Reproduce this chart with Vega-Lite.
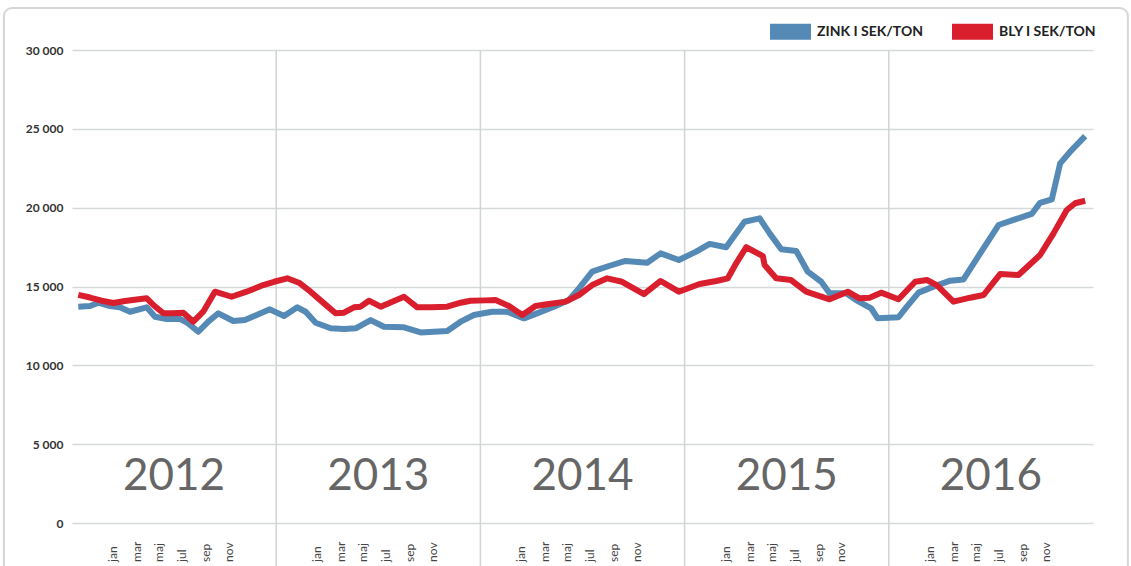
{
  "$schema": "https://vega.github.io/schema/vega-lite/v6.json",
  "width": 1021,
  "height": 473,
  "autosize": {"type": "none"},
  "padding": {"left": 72, "top": 50, "right": 38, "bottom": 43},
  "background": "#ffffff",
  "config": {
    "view": {"stroke": null},
    "font": "Lato",
    "axisY": {"domain": false, "ticks": false, "grid": true, "gridColor": "#d5d9d9", "gridWidth": 1.5, "labelPadding": 9, "labelFont": "Lato", "labelFontWeight": "bold", "labelFontSize": 12, "labelColor": "#333333"}
  },
  "datasets": {
    "prices": [
      {"t": 0.37, "metal": "ZINK I SEK/TON", "sek": 13720},
      {"t": 1.06, "metal": "ZINK I SEK/TON", "sek": 13760},
      {"t": 1.55, "metal": "ZINK I SEK/TON", "sek": 13970},
      {"t": 2.23, "metal": "ZINK I SEK/TON", "sek": 13760},
      {"t": 2.82, "metal": "ZINK I SEK/TON", "sek": 13680},
      {"t": 3.41, "metal": "ZINK I SEK/TON", "sek": 13400},
      {"t": 4.39, "metal": "ZINK I SEK/TON", "sek": 13680},
      {"t": 4.88, "metal": "ZINK I SEK/TON", "sek": 13080},
      {"t": 5.56, "metal": "ZINK I SEK/TON", "sek": 12940},
      {"t": 6.35, "metal": "ZINK I SEK/TON", "sek": 12940},
      {"t": 6.83, "metal": "ZINK I SEK/TON", "sek": 12660},
      {"t": 7.42, "metal": "ZINK I SEK/TON", "sek": 12130},
      {"t": 8.01, "metal": "ZINK I SEK/TON", "sek": 12770},
      {"t": 8.6, "metal": "ZINK I SEK/TON", "sek": 13300},
      {"t": 9.48, "metal": "ZINK I SEK/TON", "sek": 12810},
      {"t": 10.16, "metal": "ZINK I SEK/TON", "sek": 12870},
      {"t": 10.85, "metal": "ZINK I SEK/TON", "sek": 13190},
      {"t": 11.63, "metal": "ZINK I SEK/TON", "sek": 13550},
      {"t": 12.46, "metal": "ZINK I SEK/TON", "sek": 13130},
      {"t": 13.24, "metal": "ZINK I SEK/TON", "sek": 13680},
      {"t": 13.73, "metal": "ZINK I SEK/TON", "sek": 13400},
      {"t": 14.32, "metal": "ZINK I SEK/TON", "sek": 12700},
      {"t": 15.2, "metal": "ZINK I SEK/TON", "sek": 12350},
      {"t": 15.98, "metal": "ZINK I SEK/TON", "sek": 12300},
      {"t": 16.67, "metal": "ZINK I SEK/TON", "sek": 12350},
      {"t": 17.55, "metal": "ZINK I SEK/TON", "sek": 12870},
      {"t": 18.33, "metal": "ZINK I SEK/TON", "sek": 12450},
      {"t": 19.51, "metal": "ZINK I SEK/TON", "sek": 12410},
      {"t": 20.49, "metal": "ZINK I SEK/TON", "sek": 12090},
      {"t": 22.05, "metal": "ZINK I SEK/TON", "sek": 12180},
      {"t": 22.84, "metal": "ZINK I SEK/TON", "sek": 12770},
      {"t": 23.62, "metal": "ZINK I SEK/TON", "sek": 13190},
      {"t": 24.69, "metal": "ZINK I SEK/TON", "sek": 13400},
      {"t": 25.57, "metal": "ZINK I SEK/TON", "sek": 13400},
      {"t": 26.56, "metal": "ZINK I SEK/TON", "sek": 12980},
      {"t": 27.44, "metal": "ZINK I SEK/TON", "sek": 13340},
      {"t": 28.42, "metal": "ZINK I SEK/TON", "sek": 13760},
      {"t": 29.2, "metal": "ZINK I SEK/TON", "sek": 14140},
      {"t": 29.79, "metal": "ZINK I SEK/TON", "sek": 14880},
      {"t": 30.57, "metal": "ZINK I SEK/TON", "sek": 15940},
      {"t": 31.55, "metal": "ZINK I SEK/TON", "sek": 16300},
      {"t": 32.53, "metal": "ZINK I SEK/TON", "sek": 16620},
      {"t": 33.8, "metal": "ZINK I SEK/TON", "sek": 16510},
      {"t": 34.59, "metal": "ZINK I SEK/TON", "sek": 17100},
      {"t": 35.66, "metal": "ZINK I SEK/TON", "sek": 16680},
      {"t": 36.68, "metal": "ZINK I SEK/TON", "sek": 17210},
      {"t": 37.47, "metal": "ZINK I SEK/TON", "sek": 17700},
      {"t": 38.44, "metal": "ZINK I SEK/TON", "sek": 17490},
      {"t": 39.52, "metal": "ZINK I SEK/TON", "sek": 19110},
      {"t": 40.41, "metal": "ZINK I SEK/TON", "sek": 19320},
      {"t": 41.0, "metal": "ZINK I SEK/TON", "sek": 18370},
      {"t": 41.68, "metal": "ZINK I SEK/TON", "sek": 17360},
      {"t": 42.56, "metal": "ZINK I SEK/TON", "sek": 17250},
      {"t": 43.24, "metal": "ZINK I SEK/TON", "sek": 15940},
      {"t": 44.03, "metal": "ZINK I SEK/TON", "sek": 15300},
      {"t": 44.52, "metal": "ZINK I SEK/TON", "sek": 14570},
      {"t": 45.5, "metal": "ZINK I SEK/TON", "sek": 14570},
      {"t": 46.08, "metal": "ZINK I SEK/TON", "sek": 14140},
      {"t": 46.96, "metal": "ZINK I SEK/TON", "sek": 13620},
      {"t": 47.35, "metal": "ZINK I SEK/TON", "sek": 12980},
      {"t": 48.57, "metal": "ZINK I SEK/TON", "sek": 13050},
      {"t": 49.06, "metal": "ZINK I SEK/TON", "sek": 13720},
      {"t": 49.75, "metal": "ZINK I SEK/TON", "sek": 14610},
      {"t": 50.63, "metal": "ZINK I SEK/TON", "sek": 14990},
      {"t": 51.61, "metal": "ZINK I SEK/TON", "sek": 15370},
      {"t": 52.39, "metal": "ZINK I SEK/TON", "sek": 15450},
      {"t": 53.37, "metal": "ZINK I SEK/TON", "sek": 17100},
      {"t": 54.45, "metal": "ZINK I SEK/TON", "sek": 18900},
      {"t": 55.33, "metal": "ZINK I SEK/TON", "sek": 19220},
      {"t": 56.4, "metal": "ZINK I SEK/TON", "sek": 19600},
      {"t": 56.89, "metal": "ZINK I SEK/TON", "sek": 20310},
      {"t": 57.58, "metal": "ZINK I SEK/TON", "sek": 20530},
      {"t": 58.07, "metal": "ZINK I SEK/TON", "sek": 22810},
      {"t": 58.66, "metal": "ZINK I SEK/TON", "sek": 23550},
      {"t": 59.54, "metal": "ZINK I SEK/TON", "sek": 24540},
      {"t": 0.37, "metal": "BLY I SEK/TON", "sek": 14470},
      {"t": 1.06, "metal": "BLY I SEK/TON", "sek": 14300},
      {"t": 1.74, "metal": "BLY I SEK/TON", "sek": 14100},
      {"t": 2.43, "metal": "BLY I SEK/TON", "sek": 13950},
      {"t": 3.11, "metal": "BLY I SEK/TON", "sek": 14080},
      {"t": 3.8, "metal": "BLY I SEK/TON", "sek": 14170},
      {"t": 4.39, "metal": "BLY I SEK/TON", "sek": 14250},
      {"t": 4.78, "metal": "BLY I SEK/TON", "sek": 13830},
      {"t": 5.37, "metal": "BLY I SEK/TON", "sek": 13300},
      {"t": 5.95, "metal": "BLY I SEK/TON", "sek": 13300},
      {"t": 6.54, "metal": "BLY I SEK/TON", "sek": 13340},
      {"t": 7.13, "metal": "BLY I SEK/TON", "sek": 12770},
      {"t": 7.71, "metal": "BLY I SEK/TON", "sek": 13400},
      {"t": 8.4, "metal": "BLY I SEK/TON", "sek": 14670},
      {"t": 9.38, "metal": "BLY I SEK/TON", "sek": 14350},
      {"t": 10.26, "metal": "BLY I SEK/TON", "sek": 14670},
      {"t": 11.24, "metal": "BLY I SEK/TON", "sek": 15090},
      {"t": 11.87, "metal": "BLY I SEK/TON", "sek": 15300},
      {"t": 12.65, "metal": "BLY I SEK/TON", "sek": 15520},
      {"t": 13.34, "metal": "BLY I SEK/TON", "sek": 15240},
      {"t": 14.02, "metal": "BLY I SEK/TON", "sek": 14670},
      {"t": 14.81, "metal": "BLY I SEK/TON", "sek": 13930},
      {"t": 15.49, "metal": "BLY I SEK/TON", "sek": 13300},
      {"t": 15.98, "metal": "BLY I SEK/TON", "sek": 13340},
      {"t": 16.57, "metal": "BLY I SEK/TON", "sek": 13680},
      {"t": 16.96, "metal": "BLY I SEK/TON", "sek": 13720},
      {"t": 17.45, "metal": "BLY I SEK/TON", "sek": 14100},
      {"t": 18.14, "metal": "BLY I SEK/TON", "sek": 13720},
      {"t": 18.82, "metal": "BLY I SEK/TON", "sek": 14040},
      {"t": 19.51, "metal": "BLY I SEK/TON", "sek": 14350},
      {"t": 20.29, "metal": "BLY I SEK/TON", "sek": 13680},
      {"t": 21.07, "metal": "BLY I SEK/TON", "sek": 13680},
      {"t": 22.05, "metal": "BLY I SEK/TON", "sek": 13720},
      {"t": 22.84, "metal": "BLY I SEK/TON", "sek": 13970},
      {"t": 23.42, "metal": "BLY I SEK/TON", "sek": 14100},
      {"t": 24.3, "metal": "BLY I SEK/TON", "sek": 14120},
      {"t": 24.89, "metal": "BLY I SEK/TON", "sek": 14140},
      {"t": 25.68, "metal": "BLY I SEK/TON", "sek": 13760},
      {"t": 26.46, "metal": "BLY I SEK/TON", "sek": 13190},
      {"t": 27.24, "metal": "BLY I SEK/TON", "sek": 13760},
      {"t": 28.03, "metal": "BLY I SEK/TON", "sek": 13890},
      {"t": 29.01, "metal": "BLY I SEK/TON", "sek": 14040},
      {"t": 29.79, "metal": "BLY I SEK/TON", "sek": 14460},
      {"t": 30.57, "metal": "BLY I SEK/TON", "sek": 15090},
      {"t": 31.45, "metal": "BLY I SEK/TON", "sek": 15520},
      {"t": 32.33, "metal": "BLY I SEK/TON", "sek": 15300},
      {"t": 33.61, "metal": "BLY I SEK/TON", "sek": 14520},
      {"t": 34.59, "metal": "BLY I SEK/TON", "sek": 15350},
      {"t": 35.66, "metal": "BLY I SEK/TON", "sek": 14670},
      {"t": 36.88, "metal": "BLY I SEK/TON", "sek": 15160},
      {"t": 37.86, "metal": "BLY I SEK/TON", "sek": 15350},
      {"t": 38.54, "metal": "BLY I SEK/TON", "sek": 15520},
      {"t": 39.03, "metal": "BLY I SEK/TON", "sek": 16470},
      {"t": 39.62, "metal": "BLY I SEK/TON", "sek": 17490},
      {"t": 40.6, "metal": "BLY I SEK/TON", "sek": 16930},
      {"t": 40.7, "metal": "BLY I SEK/TON", "sek": 16360},
      {"t": 41.38, "metal": "BLY I SEK/TON", "sek": 15520},
      {"t": 42.26, "metal": "BLY I SEK/TON", "sek": 15410},
      {"t": 43.14, "metal": "BLY I SEK/TON", "sek": 14670},
      {"t": 44.52, "metal": "BLY I SEK/TON", "sek": 14190},
      {"t": 45.59, "metal": "BLY I SEK/TON", "sek": 14670},
      {"t": 46.28, "metal": "BLY I SEK/TON", "sek": 14250},
      {"t": 46.87, "metal": "BLY I SEK/TON", "sek": 14290},
      {"t": 47.55, "metal": "BLY I SEK/TON", "sek": 14610},
      {"t": 48.57, "metal": "BLY I SEK/TON", "sek": 14190},
      {"t": 49.55, "metal": "BLY I SEK/TON", "sek": 15300},
      {"t": 50.24, "metal": "BLY I SEK/TON", "sek": 15410},
      {"t": 50.82, "metal": "BLY I SEK/TON", "sek": 15090},
      {"t": 51.8, "metal": "BLY I SEK/TON", "sek": 14040},
      {"t": 52.78, "metal": "BLY I SEK/TON", "sek": 14290},
      {"t": 53.57, "metal": "BLY I SEK/TON", "sek": 14460},
      {"t": 54.54, "metal": "BLY I SEK/TON", "sek": 15790},
      {"t": 55.62, "metal": "BLY I SEK/TON", "sek": 15730},
      {"t": 56.89, "metal": "BLY I SEK/TON", "sek": 17000},
      {"t": 57.68, "metal": "BLY I SEK/TON", "sek": 18370},
      {"t": 58.46, "metal": "BLY I SEK/TON", "sek": 19850},
      {"t": 58.95, "metal": "BLY I SEK/TON", "sek": 20280},
      {"t": 59.54, "metal": "BLY I SEK/TON", "sek": 20440}
    ],
    "years": [
      {"year": "2012", "mid": 6, "start": 0},
      {"year": "2013", "mid": 18, "start": 12},
      {"year": "2014", "mid": 30, "start": 24},
      {"year": "2015", "mid": 42, "start": 36},
      {"year": "2016", "mid": 54, "start": 48}
    ],
    "months": [
      {"month": "jan", "pos": 2.41}, {"month": "mar", "pos": 3.82}, {"month": "maj", "pos": 5.11}, {"month": "jul", "pos": 6.46}, {"month": "sep", "pos": 7.87}, {"month": "nov", "pos": 9.22},
      {"month": "jan", "pos": 14.41}, {"month": "mar", "pos": 15.82}, {"month": "maj", "pos": 17.11}, {"month": "jul", "pos": 18.46}, {"month": "sep", "pos": 19.87}, {"month": "nov", "pos": 21.22},
      {"month": "jan", "pos": 26.41}, {"month": "mar", "pos": 27.82}, {"month": "maj", "pos": 29.11}, {"month": "jul", "pos": 30.46}, {"month": "sep", "pos": 31.87}, {"month": "nov", "pos": 33.22},
      {"month": "jan", "pos": 38.41}, {"month": "mar", "pos": 39.82}, {"month": "maj", "pos": 41.11}, {"month": "jul", "pos": 42.46}, {"month": "sep", "pos": 43.87}, {"month": "nov", "pos": 45.22},
      {"month": "jan", "pos": 50.41}, {"month": "mar", "pos": 51.82}, {"month": "maj", "pos": 53.11}, {"month": "jul", "pos": 54.46}, {"month": "sep", "pos": 55.87}, {"month": "nov", "pos": 57.22}
    ]
  },
  "layer": [
    {
      "data": {"values": [{"frame": "border"}]},
      "mark": {"type": "rect", "fill": null, "stroke": "#d6d6d6", "strokeWidth": 2, "cornerRadius": 8, "clip": false},
      "encoding": {
        "x": {"datum": -4.0, "type": "quantitative", "scale": {"domain": [0, 60], "nice": false, "zero": false}, "axis": null},
        "x2": {"datum": 62.05},
        "y": {"datum": 32660, "type": "quantitative", "scale": {"domain": [0, 30000], "nice": false}, "title": null},
        "y2": {"datum": -3300}
      }
    },
    {
      "data": {"name": "years"},
      "transform": [{"filter": "datum.start > 0"}],
      "mark": {"type": "rule", "color": "#d2d4d4", "strokeWidth": 1.5},
      "encoding": {
        "x": {"field": "start", "type": "quantitative", "scale": {"domain": [0, 60], "nice": false, "zero": false}, "axis": null},
        "y": {"datum": 30000, "type": "quantitative", "scale": {"domain": [0, 30000], "nice": false}, "title": null},
        "y2": {"datum": -2800}
      }
    },
    {
      "data": {"name": "prices"},
      "mark": {"type": "line", "strokeWidth": 6, "strokeJoin": "round", "strokeCap": "butt"},
      "encoding": {
        "x": {"field": "t", "type": "quantitative", "scale": {"domain": [0, 60], "nice": false, "zero": false}, "axis": null},
        "y": {
          "field": "sek", "type": "quantitative",
          "scale": {"domain": [0, 30000], "nice": false},
          "title": null,
          "axis": {"values": [0, 5000, 10000, 15000, 20000, 25000, 30000], "labelExpr": "replace(format(datum.value, ','), ',', ' ')"}
        },
        "color": {
          "field": "metal", "type": "nominal",
          "scale": {"domain": ["ZINK I SEK/TON", "BLY I SEK/TON"], "range": ["#568ab6", "#d91f2e"]},
          "legend": {
            "title": null,
            "orient": "none",
            "direction": "horizontal",
            "legendX": 698,
            "legendY": -39,
            "symbolType": "M-1,-0.39H1V0.39H-1Z",
            "symbolSize": 1681,
            "symbolStrokeWidth": 0,
            "labelFont": "Lato",
            "labelFontWeight": "bold",
            "labelFontSize": 14,
            "labelColor": "#222222",
            "labelOffset": 6,
            "columnPadding": 29,
            "encode": {"symbols": {"update": {"fill": {"signal": "scale('color', datum.value)"}, "fillOpacity": {"value": 1}}}}
          }
        }
      }
    },
    {
      "data": {"name": "years"},
      "mark": {"type": "text", "font": "Lato", "fontSize": 44, "color": "#666666", "align": "center", "baseline": "alphabetic"},
      "encoding": {
        "x": {"field": "mid", "type": "quantitative", "scale": {"domain": [0, 60], "nice": false, "zero": false}, "axis": null},
        "y": {"datum": 2100, "type": "quantitative", "scale": {"domain": [0, 30000], "nice": false}, "title": null},
        "text": {"field": "year"}
      }
    },
    {
      "data": {"name": "months"},
      "mark": {"type": "text", "font": "Lato", "fontSize": 12, "color": "#444444", "angle": 270, "align": "left", "baseline": "middle"},
      "encoding": {
        "x": {"field": "pos", "type": "quantitative", "scale": {"domain": [0, 60], "nice": false, "zero": false}, "axis": null},
        "y": {"datum": -2470, "type": "quantitative", "scale": {"domain": [0, 30000], "nice": false}, "title": null},
        "text": {"field": "month"}
      }
    }
  ]
}
